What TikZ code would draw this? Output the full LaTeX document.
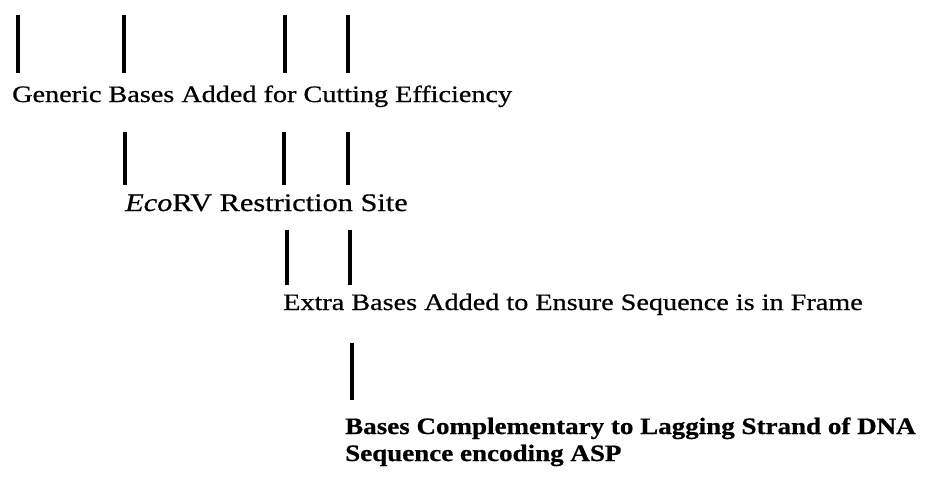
\documentclass[tikz,border=0pt]{standalone}
\usepackage{fontspec}
\setmainfont{Liberation Serif}
\newfontfamily\widerm[FakeStretch=1.2, FakeBold=0.7]{Liberation Serif}
\newfontfamily\widebf[FakeStretch=1.15, FakeBold=0.7]{Liberation Serif Bold}

\begin{document}
\begin{tikzpicture}[x=1pt, y=-1pt,
  sitebar/.style={line width=4.6pt, black},
  note/.style={anchor=base west, inner sep=0pt, font=\fontsize{23.5}{27}\selectfont\widerm},
  bignote/.style={note, font=\fontsize{25.3}{29}\selectfont\widerm},
  boldnote/.style={note, align=left, font=\fontsize{23.5}{27}\selectfont\widebf}]
\useasboundingbox (0,0) rectangle (948,483);

% bars above each label
\foreach \x in {18,124,285,348} \draw[sitebar] (\x,15) -- (\x,73);
\foreach \x in {125,284,348} \draw[sitebar] (\x,132) -- (\x,185);
\foreach \x in {287,350} \draw[sitebar] (\x,230) -- (\x,285);
\draw[sitebar] (352,343) -- (352,400);

% labels
\node[note] (generic) at (12,102) {Generic Bases Added for Cutting Efficiency};
\node[bignote] (ecorv) at (125,211) {\textit{Eco}RV Restriction Site};
\node[note] (extra) at (283,310) {Extra Bases Added to Ensure Sequence is in Frame};
\node[boldnote] (lagging) at (345,461) {Bases Complementary to Lagging Strand of DNA\\
  Sequence encoding ASP};
\end{tikzpicture}
\end{document}
